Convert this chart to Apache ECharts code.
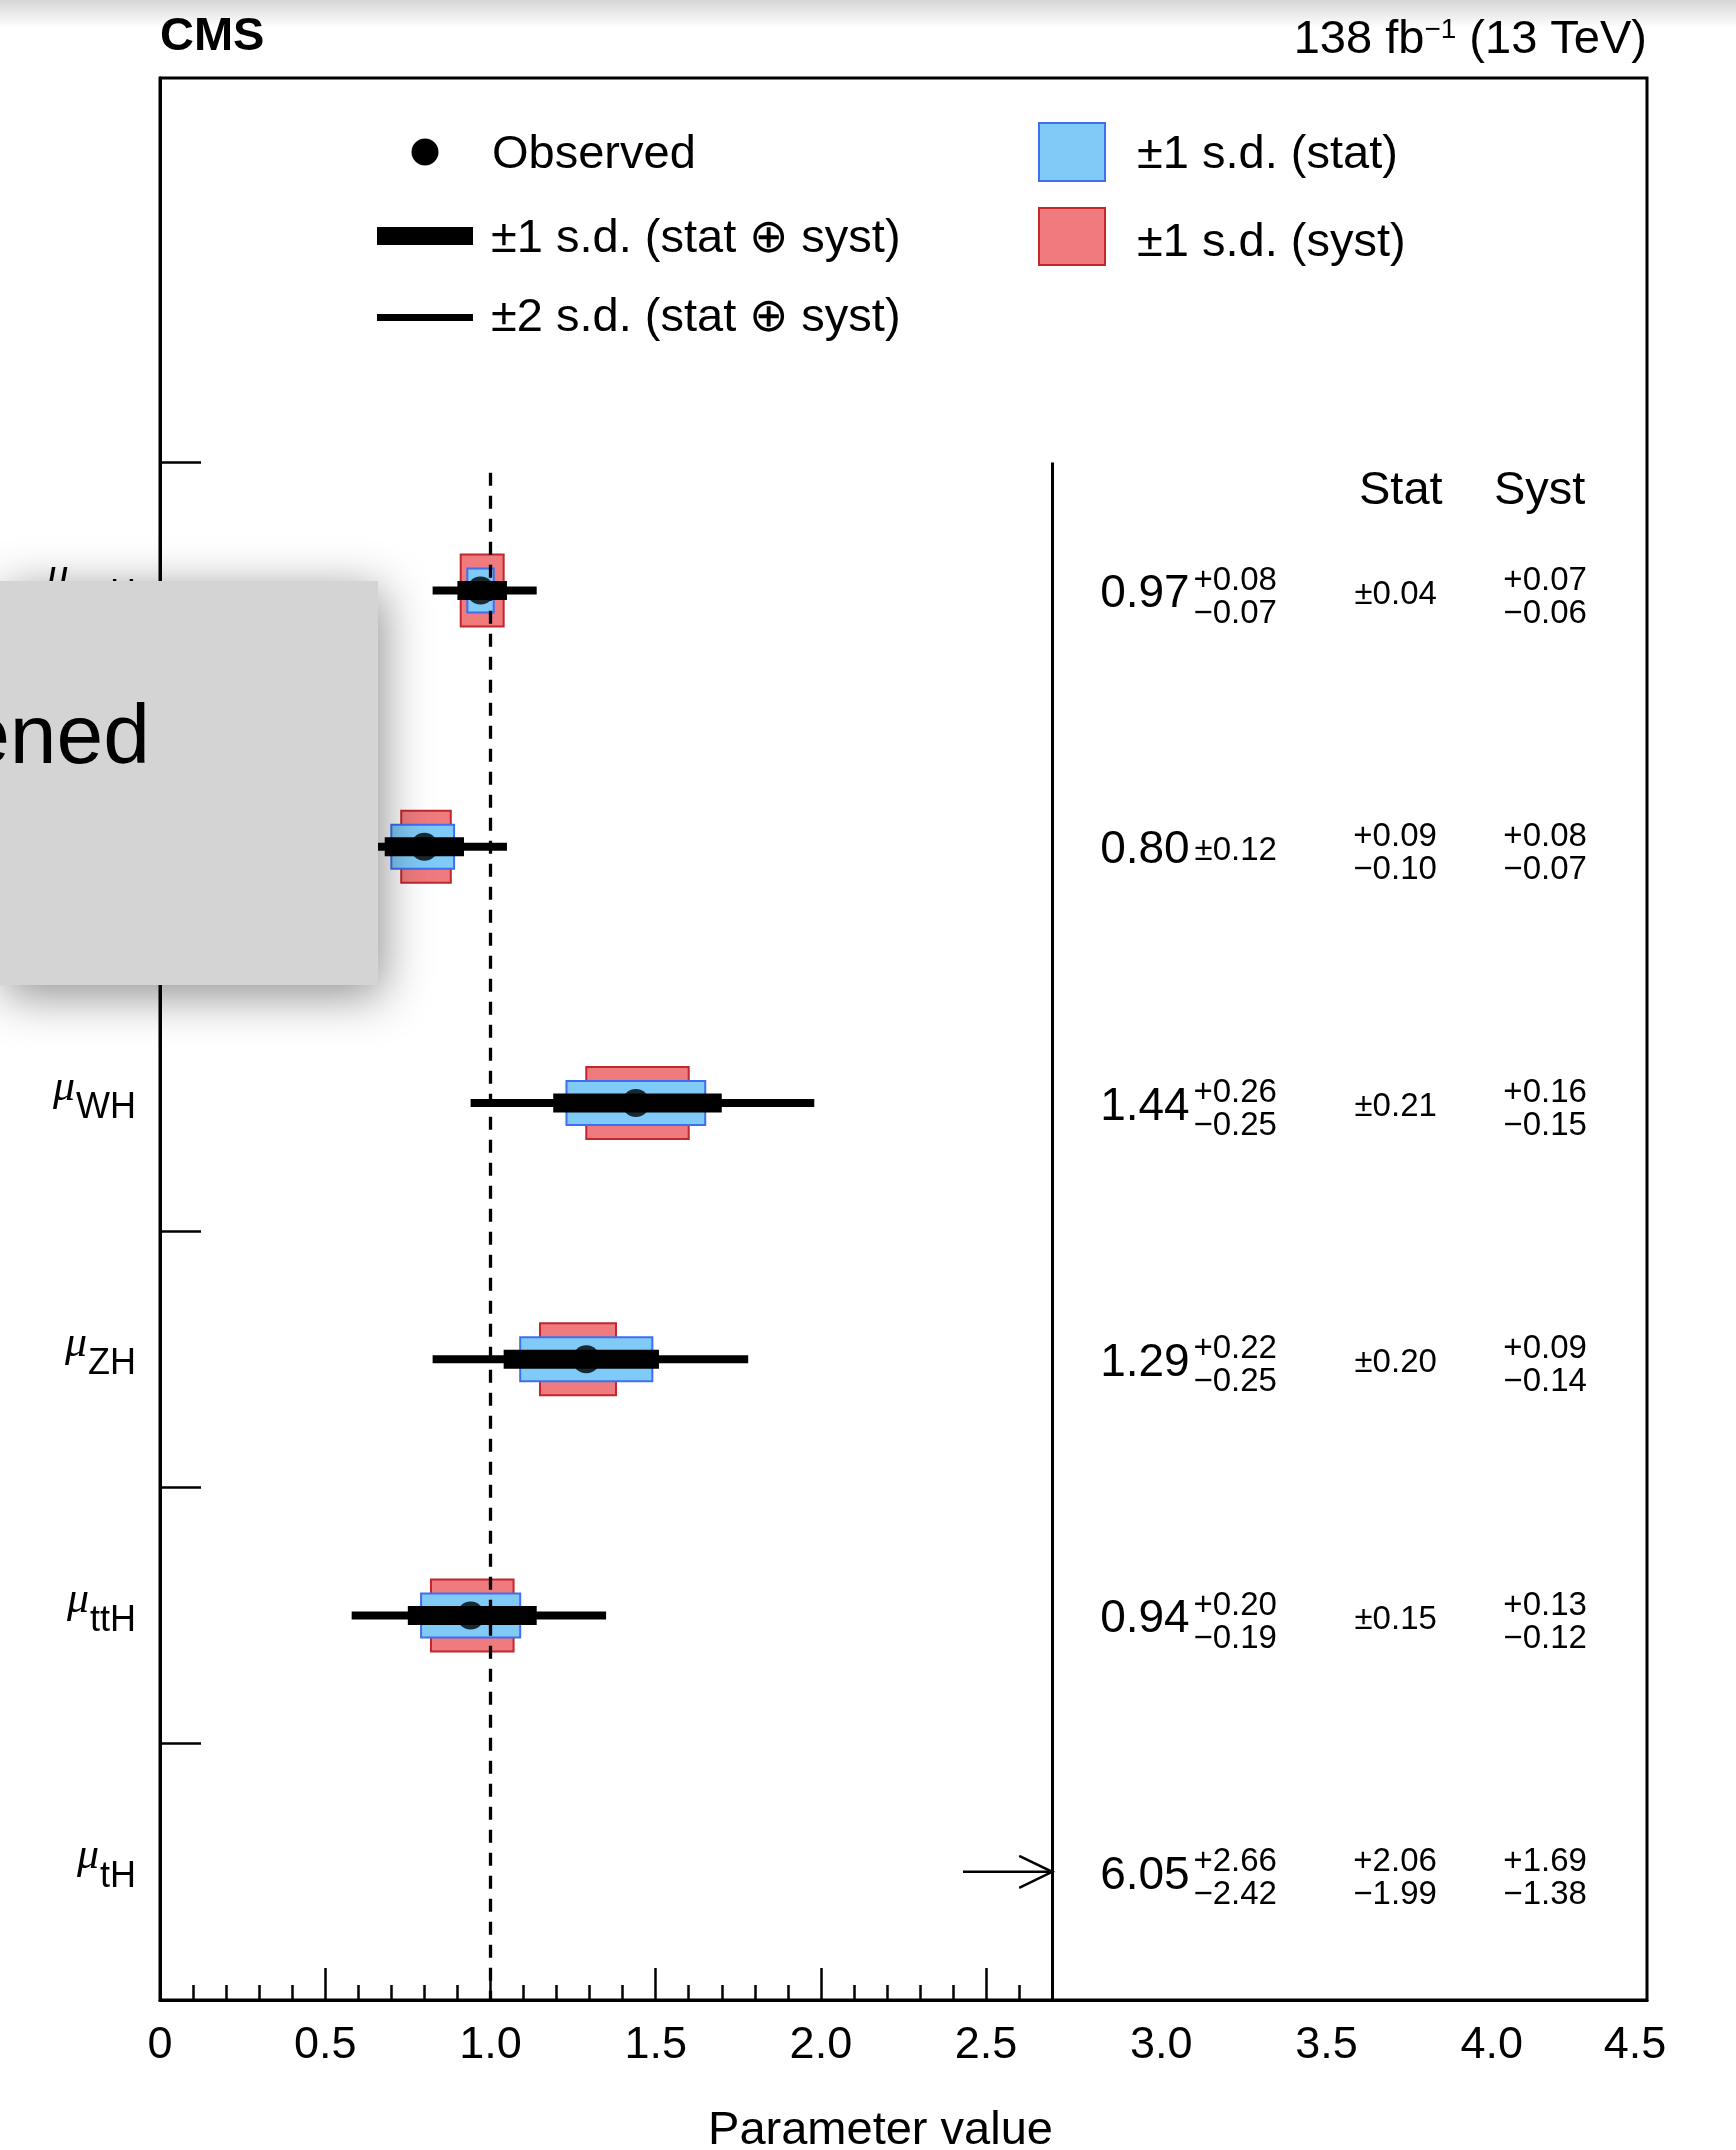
<!DOCTYPE html>
<html><head><meta charset="utf-8">
<script src="https://cdn.jsdelivr.net/npm/echarts@6/dist/echarts.min.js"></script>
<style>html,body{margin:0;padding:0;background:#fff}#c{width:1736px;height:2150px}</style>
</head><body><div id="c"></div>
<script>
// ---- data (rows listed top to bottom) ----
const categories = ['ggH', 'VBF', 'WH', 'ZH', 'ttH', 'tH'];
const observed   = [0.97, 0.80, 1.44, 1.29, 0.94, 6.05];
const totalUp    = [0.08, 0.12, 0.26, 0.22, 0.20, 2.66];
const totalDown  = [0.07, 0.12, 0.25, 0.25, 0.19, 2.42];
const statUp     = [0.04, 0.09, 0.21, 0.20, 0.15, 2.06];
const statDown   = [0.04, 0.10, 0.21, 0.20, 0.15, 1.99];
const systUp     = [0.07, 0.08, 0.16, 0.09, 0.13, 1.69];
const systDown   = [0.06, 0.07, 0.15, 0.14, 0.12, 1.38];
const total2Up   = [0.17, 0.25, 0.54, 0.49, 0.41, null];
const total2Down = [0.145, 0.25, 0.50, 0.465, 0.36, null];
const xTickValues = [0, 0.5, 1.0, 1.5, 2.0, 2.5, 3.0, 3.5, 4.0, 4.5];
const xTickLabels = ['0', '0.5', '1.0', '1.5', '2.0', '2.5', '3.0', '3.5', '4.0', '4.5'];
const xMajorTicks = [0, 0.5, 1.0, 1.5, 2.0, 2.5];
const xMinorTicks = [0.1,0.2,0.3,0.4,0.6,0.7,0.8,0.9,1.1,1.2,1.3,1.4,1.6,1.7,1.8,1.9,2.1,2.2,2.3,2.4,2.6];
const yRowTicks = [1, 2, 3, 4, 5, 6];
const xMin = 0, xMax = 4.5, yMin = 0, yMax = 7.5;
const plotBreak = 2.7;      // vertical separator between plot and table
const smLine = 1.0;         // SM expectation (dashed)
const smLineTop = 5.96;
const arrowFrom = 2.43, arrowTo = 2.70;
const headerY = 5.89;
const legendTexts = ['Observed', '\u00b11 s.d. (stat \u2295 syst)', '\u00b12 s.d. (stat \u2295 syst)', '\u00b11 s.d. (stat)', '\u00b11 s.d. (syst)'];

// ---- helpers ----
const N = categories.length;
const rowY = i => N - 0.5 - i;
const FONT = '"Liberation Sans", Arial, Helvetica, sans-serif';
const SERIF = '"Liberation Serif", "DejaVu Serif", serif';
const BLUE = '#7fcaf7', BLUE_E = '#3f6ff0', RED = '#ef7b7e', RED_E = '#c1272d';
const fmt = v => v.toFixed(2);
const neg = v => '\u2212' + fmt(v);
const mctx = document.createElement('canvas').getContext('2d');
function textWidth(s, font) { mctx.font = font; return mctx.measureText(s).width; }

const visible = [];
for (let i = 0; i < N; i++) if (observed[i] <= plotBreak) visible.push(i);

const errData = visible.map(i => [observed[i], rowY(i),
  observed[i] - total2Down[i], observed[i] + total2Up[i],
  observed[i] - totalDown[i], observed[i] + totalUp[i],
  observed[i] - statDown[i], observed[i] + statUp[i],
  observed[i] - systDown[i], observed[i] + systUp[i]]);
const dotData = visible.map(i => [observed[i], rowY(i)]);
const arrowData = [];
for (let i = 0; i < N; i++) if (observed[i] > plotBreak) arrowData.push([arrowFrom, rowY(i), arrowTo]);
const tableData = categories.map((c, i) => [3.5, rowY(i), i]);
const labelData = categories.map((c, i) => [0, rowY(i), i]);

function rectEl(x0, x1, yc, h, style) {
  return { type: 'rect', shape: { x: x0, y: yc - h / 2, width: x1 - x0, height: h }, style: style };
}
function renderErr(params, api) {
  const y = api.value(1);
  const X = v => api.coord([v, y])[0];
  const yc = api.coord([0, y])[1];
  return { type: 'group', children: [
    rectEl(X(api.value(8)), X(api.value(9)), yc, 72, { fill: RED, stroke: RED_E, lineWidth: 2 }),
    rectEl(X(api.value(6)), X(api.value(7)), yc, 44, { fill: BLUE, stroke: BLUE_E, lineWidth: 2 }),
    rectEl(X(api.value(2)), X(api.value(3)), yc, 8, { fill: '#000' }),
    rectEl(X(api.value(4)), X(api.value(5)), yc, 19, { fill: '#000' })
  ]};
}
function renderArrow(params, api) {
  const y = api.value(1);
  const p0 = api.coord([api.value(0), y]);
  const p1 = api.coord([api.value(2), y]);
  return { type: 'group', children: [
    { type: 'line', shape: { x1: p0[0], y1: p0[1], x2: p1[0], y2: p1[1] }, style: { stroke: '#000', lineWidth: 2.5 } },
    { type: 'polyline', shape: { points: [[p1[0] - 33, p1[1] - 16], [p1[0], p1[1]], [p1[0] - 33, p1[1] + 16]] }, style: { stroke: '#000', lineWidth: 2.5, fill: 'none' } }
  ]};
}
function txt(x, y, s, size, align, family, italic) {
  return { type: 'text', x: x, y: y, style: { text: s, fontSize: size, fontFamily: family || FONT, fontStyle: italic ? 'italic' : 'normal', fill: '#000',
    align: align, verticalAlign: 'middle', textAlign: align, textVerticalAlign: 'middle' } };
}
function pair(children, x, yc, up, dn, size) {
  if (Math.abs(up - dn) < 1e-9) {
    children.push(txt(x, yc + 4, '\u00b1' + fmt(up), size, 'right'));
  } else {
    children.push(txt(x, yc - 10, '+' + fmt(up), size, 'right'));
    children.push(txt(x, yc + 23, neg(dn), size, 'right'));
  }
}
function renderTable(params, api) {
  const y = api.value(1), i = api.value(2);
  const X = v => api.coord([v, y])[0];
  const yc = api.coord([0, y])[1];
  const ch = [];
  ch.push(txt(X(3.116), yc + 4, fmt(observed[i]), 46, 'right'));
  pair(ch, X(3.38), yc, totalUp[i], totalDown[i], 33);
  pair(ch, X(3.864), yc, statUp[i], statDown[i], 33);
  pair(ch, X(4.318), yc, systUp[i], systDown[i], 33);
  return { type: 'group', children: ch };
}
function renderLabel(params, api) {
  const y = api.value(1), i = api.value(2);
  const p = api.coord([0, y]);
  const xr = p[0] - 24;
  const sub = categories[i];
  const w = textWidth(sub, '36px ' + FONT);
  return { type: 'group', children: [
    txt(xr, p[1] + 5, sub, 36, 'right'),
    txt(xr - w - 1, p[1] - 15, '\u03bc', 44, 'right', SERIF, true)
  ]};
}
function renderHeader(params, api) {
  const y = api.value(1);
  const yc = api.coord([0, y])[1];
  return { type: 'group', children: [
    txt(api.coord([3.755, y])[0], yc, 'Stat', 47, 'center'),
    txt(api.coord([4.175, y])[0], yc, 'Syst', 47, 'center')
  ]};
}

const chart = echarts.init(document.getElementById('c'), null, { renderer: 'canvas' });
const option = {
  backgroundColor: '#fff',
  animation: false,
  grid: { left: 160, right: 89, top: 78, bottom: 150, show: true, borderColor: '#000', borderWidth: 3,
          containLabel: false, outerBoundsMode: 'none' },
  xAxis: [{
    type: 'value', min: xMin, max: xMax, position: 'bottom',
    splitLine: { show: false },
    axisLine: { show: true, lineStyle: { color: '#000', width: 3 } },
    axisTick: { show: true, inside: true, length: 32, customValues: xMajorTicks, lineStyle: { color: '#000', width: 2.5 } },
    axisLabel: { show: true, customValues: xTickValues, margin: 23, color: '#000', fontSize: 45, fontFamily: FONT,
      formatter: v => {
        const k = xTickValues.indexOf(v);
        const s = k >= 0 ? xTickLabels[k] : String(v);
        if (v > plotBreak && v < xMax) return '{r|' + s + '}';
        if (v === xMax) return '{l|' + s + '}';
        return '{n|' + s + '}';
      },
      rich: {
        n: { fontSize: 45, fontFamily: FONT, color: '#000' },
        r: { fontSize: 45, fontFamily: FONT, color: '#000', padding: [0, 0, 0, 20] },
        l: { fontSize: 45, fontFamily: FONT, color: '#000', padding: [0, 24, 0, 0] }
      }
    },
    name: 'Parameter value', nameLocation: 'middle', nameGap: 108,
    nameTextStyle: { fontSize: 47, fontFamily: FONT, color: '#000', padding: [0, 46, 0, 0] }
  }, {
    type: 'value', min: xMin, max: xMax, position: 'bottom', gridIndex: 0,
    splitLine: { show: false }, axisLine: { show: false }, axisLabel: { show: false },
    axisTick: { show: true, inside: true, length: 15, customValues: xMinorTicks, lineStyle: { color: '#000', width: 2.5 } }
  }],
  yAxis: {
    type: 'value', min: yMin, max: yMax,
    splitLine: { show: false },
    axisLine: { show: true, lineStyle: { color: '#000', width: 3 } },
    axisTick: { show: true, inside: true, length: 41, customValues: yRowTicks, lineStyle: { color: '#000', width: 2.5 } },
    axisLabel: { show: false }
  },
  series: [
    { type: 'custom', name: 'errors', renderItem: renderErr, data: errData, encode: { x: [2, 3], y: 1 }, z: 2,
      markLine: { silent: true, symbol: ['none', 'none'], label: { show: false }, animation: false,
        data: [
          [{ coord: [smLine, smLineTop], lineStyle: { type: [13, 10], width: 3.3, color: '#000' } }, { coord: [smLine, yMin] }],
          [{ coord: [plotBreak, 6], lineStyle: { type: 'solid', width: 3, color: '#000' } }, { coord: [plotBreak, yMin] }]
        ] } },
    { type: 'scatter', name: 'Observed', data: dotData, symbol: 'circle', symbolSize: 28, itemStyle: { color: '#000' }, z: 5 },
    { type: 'custom', name: 'arrow', renderItem: renderArrow, data: arrowData, encode: { x: [0, 2], y: 1 }, z: 4 },
    { type: 'custom', name: 'table', renderItem: renderTable, data: tableData, encode: { x: 0, y: 1 }, z: 4 },
    { type: 'custom', name: 'rowLabels', renderItem: renderLabel, data: labelData, encode: { x: 0, y: 1 }, z: 4, clip: false },
    { type: 'custom', name: 'header', renderItem: renderHeader, data: [[3.9, headerY]], encode: { x: 0, y: 1 }, z: 4 }
  ],
  graphic: [
    { type: 'rect', left: 0, top: 0, z: 0, shape: { width: 1736, height: 28 },
      style: { fill: new echarts.graphic.LinearGradient(0, 0, 0, 1, [{ offset: 0, color: 'rgba(0,0,0,0.16)' }, { offset: 1, color: 'rgba(0,0,0,0)' }]) } },
    { type: 'text', x: 160, y: 37, style: { text: 'CMS', font: 'bold 47px ' + FONT, fill: '#000', align: 'left', verticalAlign: 'middle' } },
    { type: 'text', x: 1647, y: 40, style: { text: '{a|138 fb}{s|\u22121}{a| (13 TeV)}', align: 'right', verticalAlign: 'middle', fill: '#000',
        rich: { a: { fontSize: 47, fontFamily: FONT, color: '#000', lineHeight: 47 },
                s: { fontSize: 28, fontFamily: FONT, color: '#000', verticalAlign: 'top', lineHeight: 28, padding: [0, 0, 32, 0] } } } },
    // legend
    { type: 'circle', shape: { cx: 425, cy: 152, r: 13.5 }, style: { fill: '#000' } },
    { type: 'text', x: 492, y: 155, style: { text: legendTexts[0], fontSize: 47, fontFamily: FONT, fill: '#000', align: 'left', verticalAlign: 'middle' } },
    { type: 'rect', shape: { x: 377, y: 227, width: 96, height: 18 }, style: { fill: '#000' } },
    { type: 'text', x: 491, y: 239, style: { text: legendTexts[1], fontSize: 47, fontFamily: FONT, fill: '#000', align: 'left', verticalAlign: 'middle' } },
    { type: 'rect', shape: { x: 377, y: 314, width: 96, height: 7 }, style: { fill: '#000' } },
    { type: 'text', x: 491, y: 318, style: { text: legendTexts[2], fontSize: 47, fontFamily: FONT, fill: '#000', align: 'left', verticalAlign: 'middle' } },
    { type: 'rect', shape: { x: 1039, y: 123, width: 66, height: 58 }, style: { fill: BLUE, stroke: BLUE_E, lineWidth: 2 } },
    { type: 'text', x: 1137, y: 155, style: { text: legendTexts[3], fontSize: 47, fontFamily: FONT, fill: '#000', align: 'left', verticalAlign: 'middle' } },
    { type: 'rect', shape: { x: 1039, y: 208, width: 66, height: 57 }, style: { fill: RED, stroke: RED_E, lineWidth: 2 } },
    { type: 'text', x: 1137, y: 243, style: { text: legendTexts[4], fontSize: 47, fontFamily: FONT, fill: '#000', align: 'left', verticalAlign: 'middle' } },
    // overlaid popup box from the screenshot (drawn on its own layer above the chart)
    { type: 'rect', zlevel: 1, z: 100, shape: { x: 0, y: 581, width: 378, height: 404 },
      style: { fill: '#d4d4d4', shadowBlur: 45, shadowColor: 'rgba(0,0,0,0.45)', shadowOffsetX: 4, shadowOffsetY: 10 } },
    { type: 'text', zlevel: 1, z: 101, x: 150, y: 782, style: { text: 'ened', fontSize: 84, fontFamily: FONT, fill: '#000', align: 'right', verticalAlign: 'bottom' } }
  ]
};
chart.setOption(option);
</script></body></html>
